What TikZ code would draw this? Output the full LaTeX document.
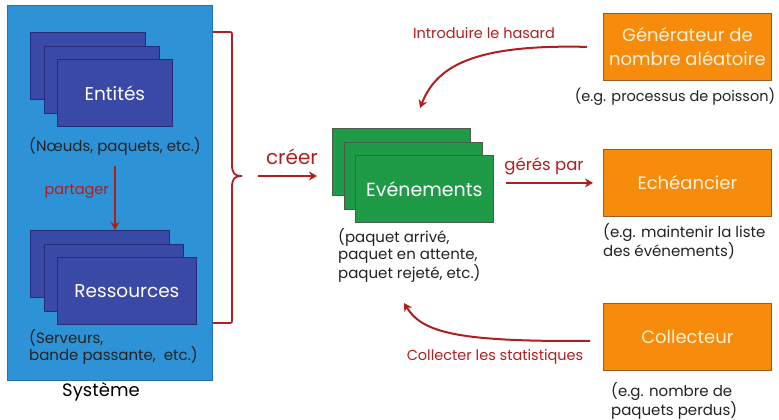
\documentclass[tikz,border=0pt]{standalone}
\usepackage{fontspec}
\setmainfont{Poppins}
\usetikzlibrary{arrows.meta,calc}
\definecolor{sysblue}{HTML}{2D93D6}
\definecolor{sysedge}{HTML}{2A6FB0}
\definecolor{cardblue}{HTML}{3A48A6}
\definecolor{cardedge}{HTML}{252C78}
\definecolor{evgreen}{HTML}{1F9A47}
\definecolor{evedge}{HTML}{4C5A50}
\definecolor{boxorange}{HTML}{F68B0C}
\definecolor{boxedge}{HTML}{9C5A2A}
\definecolor{linkred}{HTML}{B01E1E}
\definecolor{boxtext}{HTML}{FFF1D6}
\definecolor{desctext}{HTML}{222222}
\begin{document}
\begin{tikzpicture}[x=1pt,y=-1pt,
  card/.style={draw=cardedge, line width=0.8pt, fill=cardblue, anchor=north west,
    minimum height=67pt, inner sep=0pt, text=white, font=\fontsize{18.5}{22}\selectfont},
  evcard/.style={draw=evedge, line width=0.8pt, fill=evgreen, anchor=north west,
    minimum width=138pt, minimum height=67pt, inner sep=0pt, text=white, font=\fontsize{19}{22}\selectfont},
  obox/.style={draw=boxedge, line width=0.8pt, fill=boxorange, anchor=north west,
    minimum width=168pt, minimum height=67pt, inner sep=0pt, text=boxtext, align=center,
    font=\fontsize{18}{24}\selectfont},
  desc/.style={text=desctext, inner sep=0pt, align=left, font=\fontsize{15}{17.5}\selectfont},
  lbl/.style={text=linkred, inner sep=0pt, font=\fontsize{14.5}{17}\selectfont},
  link/.style={draw=linkred, line width=2pt, -{Stealth[length=8pt,width=9pt,inset=2.5pt]}},
  bracket/.style={draw=linkred, line width=1.8pt},
]
\useasboundingbox (0,0) rectangle (779,420);

% System panel
\node[draw=sysedge, line width=0.8pt, fill=sysblue, anchor=north west,
  minimum width=205pt, minimum height=375pt, inner sep=0pt] (sys) at (7,5) {};
\node[font=\fontsize{18}{21}\selectfont, text=black] (systitle) at (101,392) {Système};

% Entities stack
\node[card, minimum width=115pt] (ent1) at (30,32) {};
\node[card, minimum width=115pt] (ent2) at (44,46) {};
\node[card, minimum width=115pt] (ent3) at (57,59) {Entités};
\node[desc] (entdesc) at (115,146) {(Nœuds, paquets, etc.)};

% Resources stack
\node[card, minimum width=139pt] (res1) at (30,230) {};
\node[card, minimum width=139pt] (res2) at (44,244) {};
\node[card, minimum width=139pt] (res3) at (57,257) {Ressources};
\node[desc, anchor=north west] (resdesc) at (29,329) {(Serveurs,\\bande passante,~ etc.)};

% sharing arrow
\draw[link] ([yshift=-11pt]entdesc.south) -- (entdesc.south |- res1.north) coordinate[pos=0.4] (partmid);
\node[lbl, anchor=east] (partlbl) at ([xshift=-6pt]partmid) {partager};

% Brace gathering the system
\coordinate (bracetip) at (242,176);
\draw[bracket] (213,32) -- (228,32) .. controls (232,32) .. (232,36) -- (232,164)
  .. controls (232,173) and (234,176) .. (bracetip);
\draw[bracket] (213,323) -- (228,323) .. controls (232,323) .. (232,319) -- (232,188)
  .. controls (232,179) and (234,176) .. (bracetip);

% Events stack
\node[evcard] (ev1) at (332,128) {};
\node[evcard] (ev2) at (344,142) {};
\node[evcard] (ev3) at (355,155) {Evénements};
\node[desc, anchor=north west] (evdesc) at (338,228) {(paquet arrivé,\\paquet en attente,\\paquet rejeté, etc.)};

\draw[link, shorten <=16pt, shorten >=15pt] (bracetip) -- (bracetip -| ev1.west);
\node[lbl, font=\fontsize{20}{23}\selectfont] (creer) at (292,157) {créer};

% Orange boxes
\node[obox] (gen) at (603,13) {Générateur de\\nombre aléatoire};
\node[desc, align=center, font=\fontsize{14.5}{17}\selectfont] (gendesc) at (675,97) {(e.g. processus de poisson)};

\node[obox] (ech) at (603,149) {Echéancier};
\node[desc, anchor=north west] (echdesc) at (603,223) {(e.g. maintenir la liste\\des événements)};

\node[obox] (coll) at (603,303) {Collecteur};
\node[desc, anchor=north west, font=\fontsize{15}{16.5}\selectfont] (colldesc) at (611,382) {(e.g. nombre de\\paquets perdus)};

% managed by
\draw[link, shorten <=12pt, shorten >=10pt] (ev3.east |- ech.west) -- (ech.west);
\node[lbl, font=\fontsize{16.5}{19}\selectfont] (geres) at (544,166) {gérés par};

% randomness
\coordinate (hasardend) at (420,108);
\draw[link] ($(gen.west)+(-16,0)$) .. controls (470,44) and (436,68) .. (hasardend);
\node[lbl] (hasard) at (484,33) {Introduire le hasard};

% statistics
\coordinate (statend) at (404,303);
\draw[link] ($(coll.west)+(-13,4)$) .. controls (455,342) and (422,332) .. (statend);
\node[lbl] (stat) at (495,357) {Collecter les statistiques};
\end{tikzpicture}
\end{document}
